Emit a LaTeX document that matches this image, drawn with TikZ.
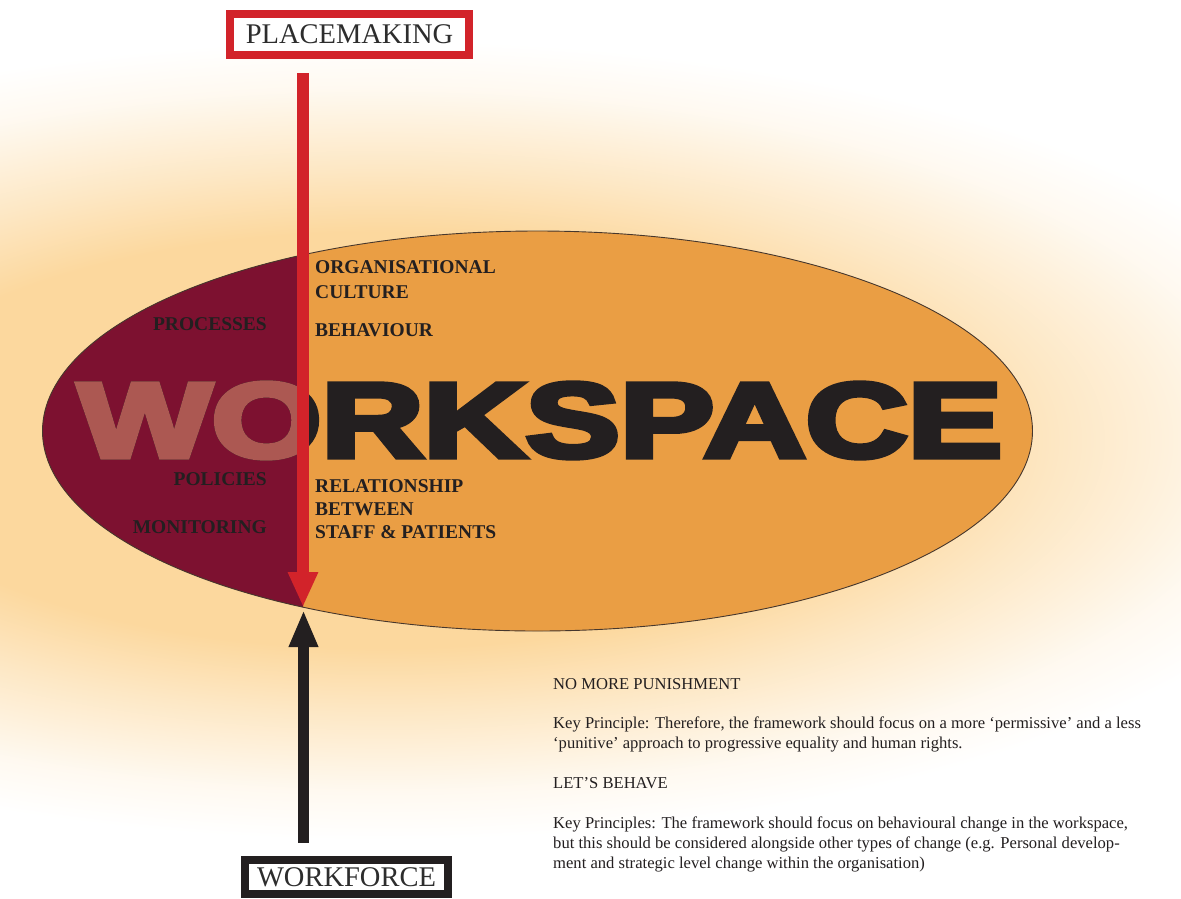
\documentclass[tikz,border=0pt]{standalone}
\usepackage{fontspec}
\setmainfont{Liberation Serif}
\newfontfamily\heavyfont{Liberation Sans}[BoldFeatures={FakeBold=5}]
\usetikzlibrary{arrows.meta}
\definecolor{glowc}{RGB}{252,216,158}
\definecolor{orangec}{RGB}{234,158,68}
\definecolor{maroonc}{RGB}{125,17,48}
\definecolor{redc}{RGB}{210,35,42}
\definecolor{inkc}{RGB}{35,31,32}
\definecolor{lightwo}{RGB}{172,88,82}
\definecolor{boxtext}{RGB}{45,45,45}
\definecolor{rimc}{RGB}{70,55,45}
\pgfdeclareradialshading{glowsh}{\pgfpoint{0bp}{0bp}}{color(0bp)=(glowc); color(13bp)=(glowc); color(17bp)=(glowc!60!white); color(22bp)=(glowc!15!white); color(25bp)=(white); color(50bp)=(white)}
\newcommand\wsword{\resizebox{923pt}{74pt}{\heavyfont\bfseries WORKSPACE}}
\begin{document}
\begin{tikzpicture}[x=1pt,y=-1pt,
  labelbox/.style={draw=#1, line width=8pt, fill=white, inner sep=0pt, outer sep=0pt,
    text=boxtext, font=\fontsize{28.5}{30}\selectfont},
  biglabel/.style={inner sep=0pt, text=inkc, font=\bfseries\fontsize{19.5}{23}\selectfont},
  para/.style={inner sep=0pt, anchor=base west, text=inkc, font=\fontsize{16.6}{20}\selectfont},
  wordstyle/.style={inner sep=0pt, anchor=base west},
  redarrow/.style={line width=12pt, draw=redc, -{Triangle[width=28pt,length=35pt]}},
  blackarrow/.style={line width=11pt, draw=inkc, -{Triangle[width=27pt,length=37pt]}}]
\useasboundingbox (0,0) rectangle (1181,898);
\fill[white] (0,0) rectangle (1181,898);
% background glow
\begin{scope}
  \clip (0,0) rectangle (1181,898);
  \shade[shading=glowsh] (380,440) ellipse (1000 and 400);
\end{scope}
% main ellipse
\fill[orangec] (537.5,431) ellipse (495 and 200);
\begin{scope}
  \clip (0,0) rectangle (303,898);
  \fill[maroonc] (537.5,431) ellipse (495 and 200);
\end{scope}
\draw[rimc, line width=0.9pt] (537.5,431) ellipse (495 and 200);
% word
\node[wordstyle, text=inkc] (word) at (78,457) {\wsword};
\begin{scope}
  \clip (0,0) rectangle (303,898);
  \node[wordstyle, text=lightwo] (wordlight) at (78,457) {\wsword};
\end{scope}
% labels left
\node[biglabel, anchor=base east] (proc) at (267,330) {PROCESSES};
\node[biglabel, anchor=base east] (poli) at (267,485) {POLICIES};
\node[biglabel, anchor=base east] (moni) at (267,533) {MONITORING};
% labels right
\node[biglabel, anchor=base west] (org1) at (315,273) {ORGANISATIONAL};
\node[biglabel, anchor=base west] (org2) at (315,298) {CULTURE};
\node[biglabel, anchor=base west] (beh) at (315,336) {BEHAVIOUR};
\node[biglabel, anchor=base west] (rel1) at (315,492) {RELATIONSHIP};
\node[biglabel, anchor=base west] (rel2) at (315,515) {BETWEEN};
\node[biglabel, anchor=base west] (rel3) at (315,538) {STAFF \& PATIENTS};
% boxes
\node[labelbox=redc, minimum width=239pt, minimum height=41pt] (plm) at (349.5,34.5) {PLACEMAKING};
\node[labelbox=inkc, minimum width=203.5pt, minimum height=34.5pt] (wf) at (346.5,877) {WORKFORCE};
% arrows
\coordinate (rtip) at (303,607);
\coordinate (btip) at (303.5,610);
\draw[redarrow, shorten <=18pt] (plm.south -| rtip) -- (rtip);
\draw[blackarrow, shorten <=17pt] (wf.north -| btip) -- (btip);
% paragraph
\node[para] (p1) at (553,689) {NO MORE PUNISHMENT};
\node[para] (p2) at (553,728) {Key Principle: Therefore, the framework should focus on a more ‘permissive’ and a less};
\node[para] (p3) at (553,748) {‘punitive’ approach to progressive equality and human rights.};
\node[para] (p4) at (553,788) {LET’S BEHAVE};
\node[para] (p5) at (553,828) {Key Principles: The framework should focus on behavioural change in the workspace,};
\node[para] (p6) at (553,848) {but this should be considered alongside other types of change (e.g. Personal develop-};
\node[para] (p7) at (553,868) {ment and strategic level change within the organisation)};
\end{tikzpicture}
\end{document}
